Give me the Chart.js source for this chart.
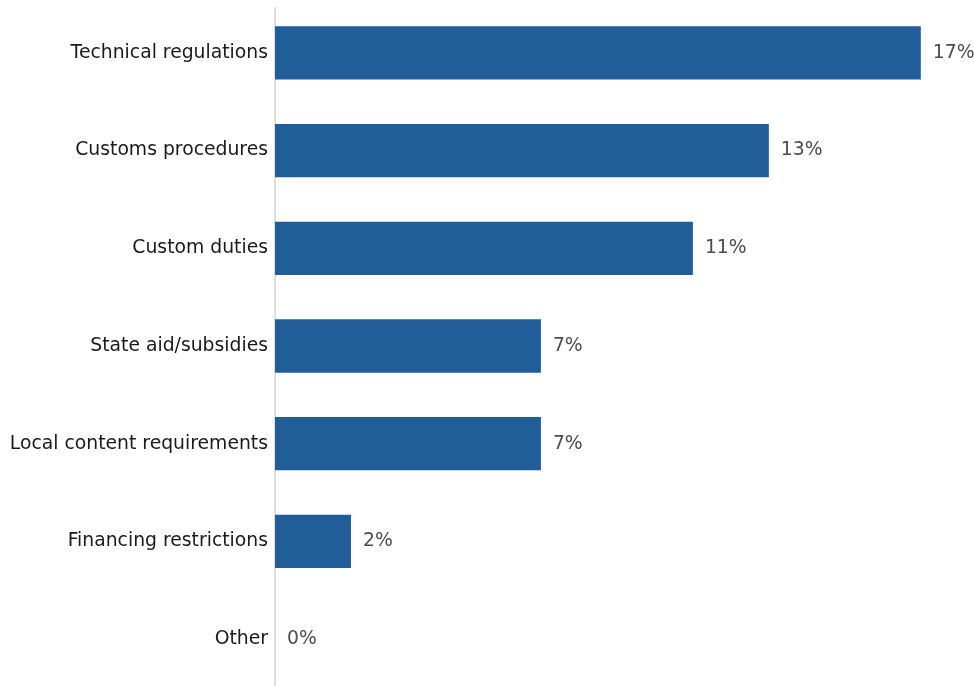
<!DOCTYPE html>
<html>
<head>
<meta charset="utf-8">
<script src="https://cdn.jsdelivr.net/npm/chart.js@4.4.1/dist/chart.umd.min.js"></script>
<style>
  html, body { margin: 0; padding: 0; background: #ffffff; overflow: hidden; }
  #wrap { width: 974px; height: 688px; }
</style>
</head>
<body>
<div id="wrap"><canvas id="chart" width="974" height="688"></canvas></div>
<script>
const categories = [
  "Technical regulations",
  "Customs procedures",
  "Custom duties",
  "State aid/subsidies",
  "Local content requirements",
  "Financing restrictions",
  "Other"
];
const shares = [17, 13, 11, 7, 7, 2, 0];

const FONT = "'DejaVu Sans', sans-serif";

// Thin grey baseline along the category axis
const axisLine = {
  id: "axisLine",
  beforeDatasetsDraw(chart) {
    const { ctx, chartArea } = chart;
    ctx.save();
    ctx.strokeStyle = "#d4d4d4";
    ctx.lineWidth = 1.5;
    ctx.beginPath();
    ctx.moveTo(chartArea.left, 7);
    ctx.lineTo(chartArea.left, chartArea.bottom);
    ctx.stroke();
    ctx.restore();
  }
};

// Percentage labels placed just past the end of each bar
const valueLabels = {
  id: "valueLabels",
  afterDatasetsDraw(chart) {
    const ctx = chart.ctx;
    const meta = chart.getDatasetMeta(0);
    ctx.save();
    ctx.font = "18.8px " + FONT;
    ctx.fillStyle = "#4d4d4d";
    ctx.textAlign = "left";
    ctx.textBaseline = "middle";
    meta.data.forEach((bar, i) => {
      ctx.fillText(shares[i] + "%", bar.x + 12, bar.y);
    });
    ctx.restore();
  }
};

new Chart(document.getElementById("chart"), {
  type: "bar",
  data: {
    labels: categories,
    datasets: [{
      data: shares,
      backgroundColor: "#215e99",
      borderWidth: 0,
      barPercentage: 0.545,
      categoryPercentage: 1.0
    }]
  },
  options: {
    indexAxis: "y",
    responsive: false,
    animation: false,
    devicePixelRatio: 1,
    layout: { padding: { top: 4, right: 0, bottom: 0, left: 0 } },
    plugins: {
      legend: { display: false },
      tooltip: { enabled: false }
    },
    scales: {
      x: {
        display: false,
        min: 0,
        max: 18.4
      },
      y: {
        afterFit(scale) {
          scale.width = 275;
          scale.paddingTop = 0;
          scale.paddingBottom = 0;
        },
        grid: { display: false, drawTicks: false },
        border: { display: false },
        ticks: {
          color: "#1a1a1a",
          padding: 7,
          font: { family: FONT, size: 18.8 }
        }
      }
    }
  },
  plugins: [axisLine, valueLabels]
});
</script>
</body>
</html>
